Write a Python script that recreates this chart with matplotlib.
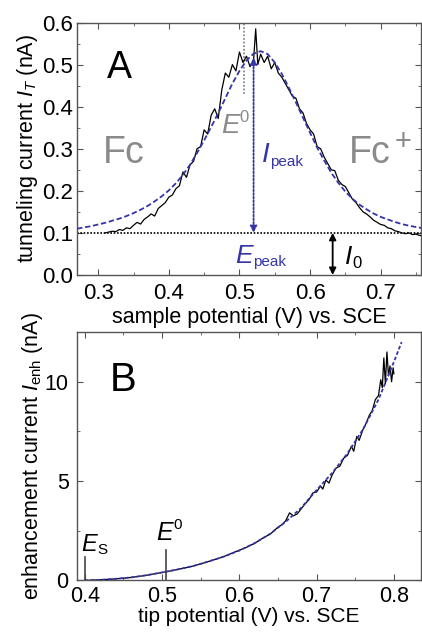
import numpy as np
import matplotlib
matplotlib.use("Agg")
import matplotlib.pyplot as plt
from matplotlib.ticker import MultipleLocator

plt.rcParams['font.family'] = ['Liberation Sans', 'DejaVu Sans']
plt.rcParams['mathtext.fontset'] = 'custom'
plt.rcParams['mathtext.rm'] = 'Liberation Sans'
plt.rcParams['mathtext.it'] = 'Liberation Sans:italic'

# ---------------- Panel A data ----------------
a_fit_x = [0.27, 0.28, 0.29, 0.30, 0.31, 0.32, 0.33, 0.34, 0.35, 0.36, 0.37, 0.38, 0.39,
           0.40, 0.41, 0.42, 0.43, 0.44, 0.45, 0.46, 0.47, 0.48, 0.49, 0.50, 0.51,
           0.52, 0.53, 0.54, 0.55, 0.56, 0.57, 0.58, 0.59, 0.60, 0.61, 0.62, 0.63,
           0.64, 0.65, 0.66, 0.67, 0.68, 0.69, 0.70, 0.71, 0.72, 0.73, 0.74, 0.75, 0.76]
a_fit_y = [0.110, 0.113, 0.116, 0.120, 0.124, 0.129, 0.134, 0.140, 0.147, 0.155, 0.164, 0.175, 0.187,
           0.201, 0.218, 0.238, 0.262, 0.290, 0.320, 0.352, 0.385, 0.420, 0.455, 0.485, 0.510,
           0.526, 0.532, 0.525, 0.505, 0.478, 0.445, 0.410, 0.374, 0.338, 0.303, 0.272, 0.243,
           0.219, 0.198, 0.181, 0.167, 0.156, 0.146, 0.138, 0.132, 0.126, 0.121, 0.117, 0.114, 0.111]

a_data_x = [0.310, 0.315, 0.320, 0.325, 0.330, 0.335, 0.340, 0.345, 0.350, 0.355,
            0.360, 0.365, 0.370, 0.375, 0.380, 0.385, 0.390, 0.395, 0.400, 0.405,
            0.410, 0.415, 0.420, 0.425, 0.430, 0.435, 0.440, 0.445, 0.450, 0.455,
            0.460, 0.465, 0.470, 0.475, 0.480, 0.485, 0.490, 0.495, 0.500, 0.505,
            0.510, 0.515, 0.520, 0.523, 0.526, 0.530, 0.535, 0.540, 0.545, 0.550,
            0.555, 0.560, 0.565, 0.570, 0.575, 0.580, 0.585, 0.590, 0.595, 0.600,
            0.605, 0.610, 0.615, 0.620, 0.625, 0.630, 0.635, 0.640, 0.645, 0.650,
            0.655, 0.660, 0.665, 0.670, 0.675, 0.680, 0.685, 0.690, 0.695, 0.700,
            0.705, 0.710, 0.715, 0.720, 0.725, 0.730, 0.735, 0.740, 0.745, 0.750,
            0.755, 0.760]
a_data_y = [0.100, 0.102, 0.104, 0.103, 0.108, 0.106, 0.112, 0.110, 0.118, 0.125,
            0.121, 0.132, 0.138, 0.145, 0.140, 0.158, 0.165, 0.172, 0.185, 0.190,
            0.205, 0.212, 0.245, 0.232, 0.262, 0.270, 0.300, 0.305, 0.345, 0.335,
            0.380, 0.395, 0.372, 0.440, 0.480, 0.470, 0.500, 0.485, 0.530, 0.505,
            0.520, 0.495, 0.510, 0.585, 0.500, 0.525, 0.505, 0.520, 0.490, 0.505,
            0.480, 0.470, 0.455, 0.440, 0.425, 0.420, 0.395, 0.385, 0.360, 0.345,
            0.335, 0.305, 0.300, 0.280, 0.265, 0.250, 0.248, 0.225, 0.215, 0.210,
            0.195, 0.180, 0.172, 0.160, 0.150, 0.145, 0.138, 0.130, 0.125, 0.120,
            0.118, 0.112, 0.110, 0.105, 0.103, 0.100, 0.098, 0.100, 0.096, 0.097,
            0.094, 0.093]

a_I0 = 0.1
a_E0 = 0.506
a_Epeak = 0.520
a_Ipeak_top = 0.517

# ---------------- Panel B data ----------------
b_fit_x = [0.40, 0.42, 0.44, 0.46, 0.48, 0.50, 0.52, 0.54, 0.56, 0.58, 0.60,
           0.62, 0.64, 0.66, 0.68, 0.70, 0.72, 0.74, 0.76, 0.78, 0.80, 0.81]
b_fit_y = [0.0, 0.03, 0.08, 0.15, 0.26, 0.40, 0.55, 0.72, 0.95, 1.20, 1.50,
           1.88, 2.35, 2.95, 3.65, 4.55, 5.40, 6.40, 7.60, 9.10, 11.0, 12.0]

b_data_x = [0.400, 0.410, 0.420, 0.430, 0.440, 0.450, 0.460, 0.470, 0.480, 0.490,
            0.500, 0.510, 0.520, 0.530, 0.540, 0.550, 0.560, 0.570, 0.580, 0.590,
            0.600, 0.610, 0.620, 0.630, 0.640, 0.650, 0.655, 0.660, 0.665, 0.670,
            0.675, 0.680, 0.685, 0.690, 0.695, 0.700, 0.705, 0.708, 0.712, 0.716,
            0.720, 0.725, 0.730, 0.735, 0.740, 0.745, 0.748, 0.752, 0.755, 0.760,
            0.764, 0.768, 0.772, 0.776, 0.780, 0.783, 0.785, 0.787, 0.789, 0.791,
            0.793, 0.795, 0.797, 0.799, 0.800]
b_data_y = [0.00, 0.01, 0.03, 0.05, 0.08, 0.11, 0.15, 0.20, 0.26, 0.33,
            0.40, 0.47, 0.55, 0.63, 0.72, 0.83, 0.95, 1.07, 1.20, 1.36,
            1.52, 1.68, 1.87, 2.12, 2.33, 2.68, 2.80, 3.00, 3.40, 3.25,
            3.35, 3.60, 3.85, 4.05, 4.40, 4.45, 4.75, 4.60, 5.05, 4.90,
            5.30, 5.65, 5.75, 6.15, 6.30, 6.75, 6.50, 7.25, 7.05, 7.60,
            7.90, 8.30, 8.55, 9.10, 9.30, 10.10, 9.70, 11.20, 9.90, 11.50,
            10.30, 10.80, 10.00, 10.70, 10.40]

b_Es = 0.400
b_Es_top = 1.2
b_E0 = 0.505
b_E0_top = 1.55

BLUE = '#3535a8'
GRAY = '#8a8a8a'
SPINE = '#555555'

fig = plt.figure(figsize=(4.22, 6.35), dpi=100)
axA = fig.add_axes([0.1825, 0.567, 0.815, 0.3975])
axB = fig.add_axes([0.1825, 0.086, 0.815, 0.391])
renderer = fig.canvas.get_renderer()


def style(ax, xpad, ypad, lsize):
    for s in ax.spines.values():
        s.set_color(SPINE)
        s.set_linewidth(1.0)
    ax.tick_params(which='both', direction='in', top=True, right=True,
                   color=SPINE, labelsize=lsize)
    ax.tick_params(axis='x', which='both', pad=xpad)
    ax.tick_params(axis='y', which='both', pad=ypad)
    ax.tick_params(which='major', length=4)
    ax.tick_params(which='minor', length=2)


def sym(ax, x, y, main, extra, size, esize, color, sup=False):
    """Big italic symbol followed by a small sub/superscript (upright)."""
    t = ax.text(x, y, main, fontsize=size, color=color, style='italic',
                ha='left', va='baseline')
    bb = t.get_window_extent(renderer)
    x0d, _ = ax.transData.transform((x, y))
    dx = (bb.x1 - x0d) * 72.0 / fig.dpi
    dy = 0.42 * size if sup else -0.12 * size
    ax.annotate(extra, xy=(x, y), xycoords='data', xytext=(dx, dy),
                textcoords='offset points', fontsize=esize, color=color,
                ha='left', va='baseline')


# ---- Panel A ----
axA.set_xlim(0.27, 0.757)
axA.set_ylim(0.0, 0.6)
axA.plot(a_data_x, a_data_y, color='black', lw=0.9, zorder=3)
axA.plot(a_fit_x, a_fit_y, color=BLUE, lw=1.3, ls=(0, (3, 1.5)), zorder=4)
axA.axhline(a_I0, color='black', lw=1.2, ls=(0, (1, 1)), zorder=2)
axA.plot([a_E0, a_E0], [0.43, 0.6], color=GRAY, lw=1.3, ls=(0, (1, 1)), zorder=2)
axA.annotate('', xy=(a_Epeak, a_I0), xytext=(a_Epeak, a_Ipeak_top),
             arrowprops=dict(arrowstyle='<|-|>', color=BLUE, lw=1.3, ls=(0, (1, 1)),
                             mutation_scale=10, shrinkA=0, shrinkB=0), zorder=5)
axA.annotate('', xy=(0.632, 0.0), xytext=(0.632, a_I0),
             arrowprops=dict(arrowstyle='<|-|>', color='black', lw=1.3,
                             mutation_scale=10, shrinkA=0, shrinkB=0))
axA.text(0.313, 0.468, 'A', fontsize=27, color='black', va='baseline')
axA.text(0.3355, 0.289, 'Fc', fontsize=27, color=GRAY, ha='center', va='center')
axA.text(0.655, 0.289, 'Fc', fontsize=27, color=GRAY, ha='left', va='center')
axA.text(0.720, 0.298, '+', fontsize=21, color=GRAY, ha='left', va='baseline')
sym(axA, 0.474, 0.337, 'E', '0', 20, 12, GRAY, sup=True)
sym(axA, 0.532, 0.268, 'I', 'peak', 20, 11, BLUE)
sym(axA, 0.494, 0.028, 'E', 'peak', 19, 11, BLUE)
sym(axA, 0.650, 0.025, 'I', '0', 19, 12, 'black')

axA.xaxis.set_minor_locator(MultipleLocator(0.05))
axA.yaxis.set_minor_locator(MultipleLocator(0.05))
axA.set_xticks([0.3, 0.4, 0.5, 0.6, 0.7])
axA.set_xticklabels(['0.3', '0.4', '0.5', '0.6', '0.7'])
axA.set_yticks([0.0, 0.1, 0.2, 0.3, 0.4, 0.5, 0.6])
axA.set_yticklabels(['0.0', '0.1', '0.2', '0.3', '0.4', '0.5', '0.6'])
style(axA, 6, 3, 16)
axA.set_xlabel('sample potential (V) vs. SCE', fontsize=15.5, labelpad=2)
axA.set_ylabel(r'tunneling current $I_{T}$ (nA)', fontsize=15.5, labelpad=1)

# ---- Panel B ----
axB.set_xlim(0.39, 0.835)
axB.set_ylim(0, 12.5)
axB.plot(b_data_x, b_data_y, color='black', lw=0.9, zorder=3)
axB.plot(b_fit_x, b_fit_y, color=BLUE, lw=1.3, ls=(0, (2, 1.2)), zorder=4)
axB.plot([b_Es, b_Es], [0, b_Es_top], color='#444444', lw=1.2)
axB.plot([b_E0, b_E0], [0, b_E0_top], color='#444444', lw=1.2)
sym(axB, 0.396, 1.48, 'E', 'S', 17, 11, 'black')
sym(axB, 0.493, 2.05, 'E', '0', 18, 11, 'black', sup=True)
axB.text(0.433, 9.55, 'B', fontsize=29, color='black', va='baseline')

axB.xaxis.set_minor_locator(MultipleLocator(0.05))
axB.yaxis.set_minor_locator(MultipleLocator(2.5))
axB.set_xticks([0.4, 0.5, 0.6, 0.7, 0.8])
axB.set_xticklabels(['0.4', '0.5', '0.6', '0.7', '0.8'])
axB.set_yticks([0, 5, 10])
axB.set_yticklabels(['0', '5', '10'])
style(axB, 4, 6, 15.5)
axB.set_xlabel('tip potential (V) vs. SCE', fontsize=15, labelpad=0)
axB.set_ylabel(r'enhancement current $I_{\mathrm{enh}}$ (nA)', fontsize=15.5, labelpad=0)

fig.savefig('out.png', dpi=100)
